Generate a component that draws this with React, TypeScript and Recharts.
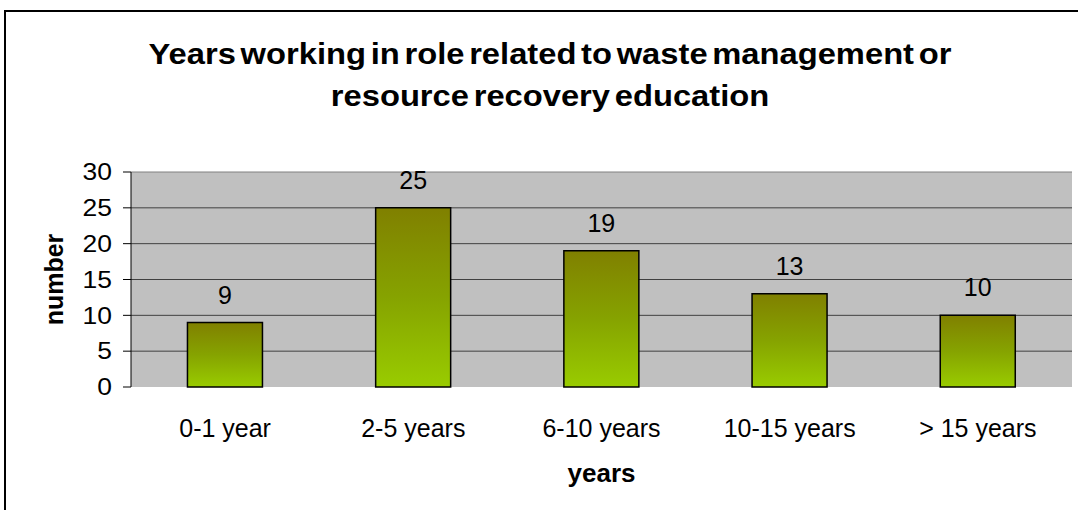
import { BarChart, Bar, XAxis, YAxis, CartesianGrid, LabelList, Label } from "recharts";

const categories = ["0-1 year", "2-5 years", "6-10 years", "10-15 years", "> 15 years"];
const counts = [9, 25, 19, 13, 10];
const yTicks = [0, 5, 10, 15, 20, 25, 30];

const data = categories.map((years, i) => ({ years, number: counts[i] }));

const FONT = "'Liberation Sans', Arial, sans-serif";

// the original picture has its axis digits drawn a bit wide, so stretch them sideways
const YTick = (props: any) => {
  const { x, y, payload } = props;
  return (
    <text
      x={x}
      y={y}
      dy="0.36em"
      textAnchor="end"
      fontSize={23}
      fill="#000"
      fontFamily={FONT}
      transform={`translate(${x},0) scale(1.15,1) translate(${-x},0)`}
    >
      {payload.value}
    </text>
  );
};

const ValueLabel = (props: any) => {
  const { x, y, width, value } = props;
  return (
    <text x={x + width / 2} y={y - 19} textAnchor="middle" fontSize={25} fill="#000" fontFamily={FONT}>
      {value}
    </text>
  );
};

export default function App() {
  return (
    <div style={{ position: "absolute", left: 0, top: 0, width: 1078, height: 510, overflow: "hidden", background: "#fff", fontFamily: FONT }}>
      <div
        style={{
          position: "absolute",
          left: 4,
          top: 10,
          width: 1100,
          height: 520,
          borderLeft: "2px solid #000",
          borderTop: "2px solid #000",
        }}
      />
      <div
        style={{
          position: "absolute",
          left: 0,
          top: 33,
          width: 1100,
          textAlign: "center",
          fontWeight: "bold",
          fontSize: 30,
          lineHeight: "42px",
          wordSpacing: -4,
          color: "#000",
          transform: "scaleX(1.09)",
          transformOrigin: "550px 0",
        }}
      >
        Years working in role related to waste management or
        <br />
        resource recovery education
      </div>
      <BarChart
        width={1078}
        height={510}
        data={data}
        margin={{ top: 172, right: 6, bottom: 23, left: 71 }}
        barCategoryGap="30%"
        style={{ position: "absolute", left: 0, top: 0 }}
      >
        <defs>
          <linearGradient id="olive" x1="0" y1="0" x2="0" y2="1">
            <stop offset="0%" stopColor="#808000" />
            <stop offset="50%" stopColor="#86A300" />
            <stop offset="100%" stopColor="#99CC00" />
          </linearGradient>
        </defs>
        <CartesianGrid
          xAxisId="edges"
          fill="#C0C0C0"
          stroke="#808080"
          horizontalValues={[30]}
          verticalValues={[0, 5]}
        />
        <CartesianGrid xAxisId="edges" stroke="#404040" vertical={false} horizontalValues={[5, 10, 15, 20, 25]} />
        <XAxis
          dataKey="years"
          xAxisId="cat"
          axisLine={false}
          tickLine={false}
          height={100}
          tick={{ fontSize: 25, fill: "#000", fontFamily: FONT }}
          tickMargin={26}
        >
          <Label value="years" position="insideBottom" offset={5} style={{ fontSize: 26, fontWeight: "bold", fill: "#000", fontFamily: FONT }} />
        </XAxis>
        <XAxis
          xAxisId="edges"
          type="number"
          domain={[0, 5]}
          ticks={[0, 1, 2, 3, 4, 5]}
          tick={false}
          height={0}
          tickSize={8}
          axisLine={{ stroke: "#000" }}
          tickLine={{ stroke: "#000" }}
        />
        <YAxis
          domain={[0, 30]}
          ticks={yTicks}
          width={60}
          interval={0}
          tickSize={8}
          tickMargin={11}
          axisLine={{ stroke: "#000" }}
          tickLine={{ stroke: "#000" }}
          tick={<YTick />}
        >
          <Label
            value="number"
            angle={-90}
            position="insideLeft"
            offset={-17}
            style={{ fontSize: 25, fontWeight: "bold", fill: "#000", fontFamily: FONT, textAnchor: "middle" }}
          />
        </YAxis>
        <Bar dataKey="number" xAxisId="cat" fill="url(#olive)" stroke="#000" strokeWidth={1.5} isAnimationActive={false}>
          <LabelList dataKey="number" content={<ValueLabel />} />
        </Bar>
      </BarChart>
    </div>
  );
}
